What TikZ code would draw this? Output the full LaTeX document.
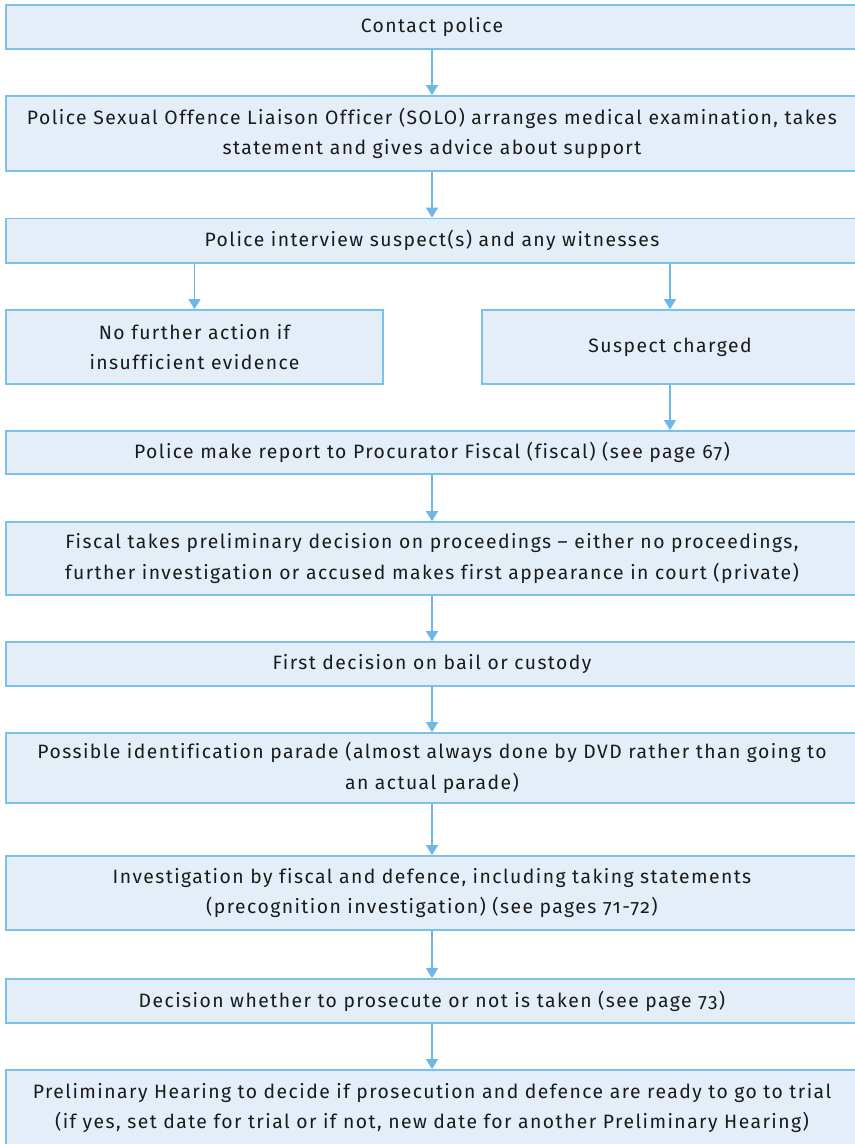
\documentclass[tikz,border=0pt]{standalone}
\usepackage{fontspec}
\setmainfont{Fira Sans}[Numbers=OldStyle,LetterSpace=7.5,Ligatures=NoCommon]
\usetikzlibrary{arrows.meta}
\definecolor{boxfill}{HTML}{E4EEF9}
\definecolor{boxline}{HTML}{7CC0EC}
\definecolor{arrowc}{HTML}{6DB8E8}
\definecolor{txt}{HTML}{1A1A1A}
\begin{document}
\begin{tikzpicture}[x=0.75pt,y=-0.75pt,
  stepbox/.style={draw=boxline,fill=boxfill,line width=1.3pt,inner sep=0pt,
    align=center,text=txt,font=\fontsize{14.5pt}{23pt}\selectfont},
  flow/.style={draw=arrowc,line width=1.1pt,-{Triangle[length=7.5pt,width=9pt]}}]
\useasboundingbox (0,0) rectangle (855,1144);
\node[stepbox,minimum width=852*0.75pt,minimum height=44*0.75pt] (b1) at (432,27) {Contact police};
\node[stepbox,minimum width=852*0.75pt,minimum height=75*0.75pt] (b2) at (432,133.5) {Police Sexual Offence Liaison Officer (SOLO) arranges medical examination, takes\\statement and gives advice about support};
\node[stepbox,minimum width=852*0.75pt,minimum height=44.5*0.75pt] (b3) at (432,240.75) {Police interview suspect(s) and any witnesses};
\node[stepbox,minimum width=377*0.75pt,minimum height=74*0.75pt] (b4) at (194.5,347) {No further action if\\insufficient evidence};
\node[stepbox,minimum width=376*0.75pt,minimum height=74*0.75pt] (b5) at (670,347) {Suspect charged};
\node[stepbox,minimum width=852*0.75pt,minimum height=43*0.75pt] (b6) at (432,452.5) {Police make report to Procurator Fiscal (fiscal) (see page 67)};
\node[stepbox,minimum width=852*0.75pt,minimum height=73*0.75pt] (b7) at (432,558.5) {Fiscal takes preliminary decision on proceedings -- either no proceedings,\\further investigation or accused makes first appearance in court (private)};
\node[stepbox,minimum width=852*0.75pt,minimum height=44*0.75pt] (b8) at (432,664) {First decision on bail or custody};
\node[stepbox,minimum width=852*0.75pt,minimum height=70*0.75pt] (b9) at (432,768) {Possible identification parade (almost always done by DVD rather than going to\\an actual parade)};
\node[stepbox,minimum width=852*0.75pt,minimum height=74*0.75pt] (b10) at (432,893) {Investigation by fiscal and defence, including taking statements\\(precognition investigation) (see pages 71-72)};
\node[stepbox,minimum width=852*0.75pt,minimum height=44*0.75pt] (b11) at (432,1001) {Decision whether to prosecute or not is taken (see page 73)};
\node[stepbox,minimum width=852*0.75pt,minimum height=76*0.75pt] (b12) at (432,1108) {Preliminary Hearing to decide if prosecution and defence are ready to go to trial\\(if yes, set date for trial or if not, new date for another Preliminary Hearing)};
\draw[flow] (b1) -- (b2);
\draw[flow] (b2) -- (b3);
\draw[flow] (b3.south -| b4) -- (b4);
\draw[flow] (b3.south -| b5) -- (b5);
\draw[flow] (b5) -- (b5 |- b6.north);
\draw[flow] (b6) -- (b7);
\draw[flow] (b7) -- (b8);
\draw[flow] (b8) -- (b9);
\draw[flow] (b9) -- (b10);
\draw[flow] (b10) -- (b11);
\draw[flow] (b11) -- (b12);
\end{tikzpicture}
\end{document}
